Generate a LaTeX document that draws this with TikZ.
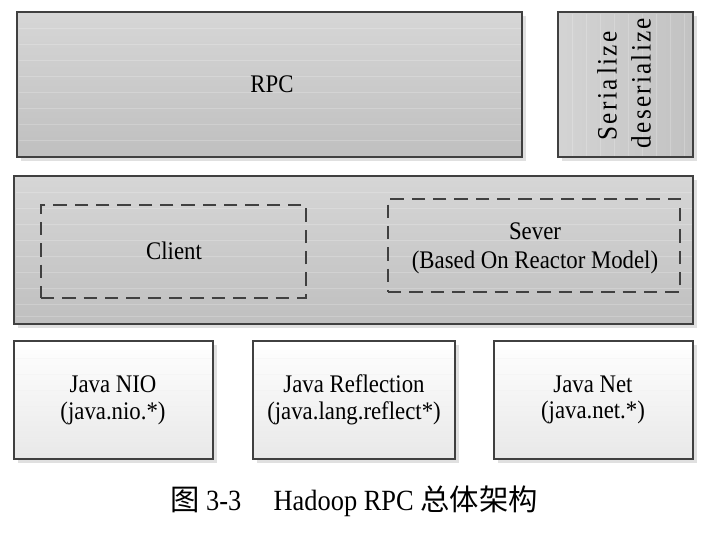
\documentclass[tikz,border=0pt]{standalone}
\usepackage{fontspec}
\setmainfont{Liberation Serif}[FakeStretch=0.9]
\newfontfamily\cjk{Noto Sans CJK SC}
\newfontfamily\spaced{Liberation Serif}[LetterSpace=8, FakeStretch=0.9]
\usetikzlibrary{shadows,fit}
\tikzset{
  frame/.style={draw=black!75, line width=1.2pt, inner sep=0pt},
  shad/.style={drop shadow={shadow xshift=3pt, shadow yshift=-3pt, fill=black!12, opacity=1}},
  graybox/.style={frame, shad, top color=black!16, bottom color=black!25},
  sidebox/.style={frame, shad, left color=black!17, right color=black!24},
  whitebox/.style={frame, shad, top color=white, bottom color=black!9},
  dashbox/.style={draw=black!75, line width=1.5pt, dash pattern=on 10pt off 6pt, inner sep=0pt},
  stripe/.style={draw=white, opacity=0.2, line width=0.6pt},
  lbl/.style={font=\fontsize{19}{20}\selectfont, align=center, inner sep=0pt},
}
\begin{document}
\begin{tikzpicture}[x=0.75pt,y=-0.75pt]
\useasboundingbox (0,0) rectangle (706,532);
% coordinates
\coordinate (r1) at (17,12);   \coordinate (r2) at (522,157);
\coordinate (s1) at (558,12);  \coordinate (s2) at (693,157);
\coordinate (m1) at (14,176);  \coordinate (m2) at (693,324);
\coordinate (c1) at (41,205);  \coordinate (c2) at (306,298);
\coordinate (v1) at (388,199); \coordinate (v2) at (680,292);
\coordinate (n1) at (14,341);  \coordinate (n2) at (213,459);
\coordinate (f1) at (253,341); \coordinate (f2) at (455,459);
\coordinate (t1) at (494,341); \coordinate (t2) at (693,459);
% boxes
\node[graybox, fit=(r1)(r2)] (rpc) {};
\node[sidebox, fit=(s1)(s2)] (ser) {};
\node[graybox, fit=(m1)(m2)] (mid) {};
\node[whitebox, fit=(n1)(n2)] (nio) {};
\node[whitebox, fit=(f1)(f2)] (refl) {};
\node[whitebox, fit=(t1)(t2)] (net) {};
% faint stripes
\foreach \yy in {28,44,60,76,92,108,124,140} \draw[stripe] (18.5,\yy) -- (520.5,\yy);
\foreach \xx in {572,586,600,614,628,642,656,670,684} \draw[stripe] (\xx,13.5) -- (\xx,155.5);
\foreach \yy in {192,208,224,240,256,272,288,304,316} \draw[stripe] (15.5,\yy) -- (691.5,\yy);
\foreach \yy in {358,374,390,406,422,438,452} {
  \draw[stripe, opacity=0.35, draw=black!6] (15.5,\yy) -- (211.5,\yy);
  \draw[stripe, opacity=0.35, draw=black!6] (254.5,\yy) -- (453.5,\yy);
  \draw[stripe, opacity=0.35, draw=black!6] (495.5,\yy) -- (691.5,\yy);
}
% dashed boxes
\node[dashbox, fit=(c1)(c2)] (client) {};
\node[dashbox, fit=(v1)(v2)] (server) {};
% texts
\node[lbl] (trpc) at (272,84) {RPC};
\node[lbl, rotate=90, font=\fontsize{21}{22}\selectfont] (tser1) at (607,86) {\spaced Seria\,lize};
\node[lbl, rotate=90, font=\fontsize{21}{22}\selectfont] (tser2) at (641,83) {\spaced deserialize};
\node[lbl] (tclient) at (174,251) {Client};
\node[lbl] (tserver) at (535,248) {Sever\\[2pt](Based On Reactor Model)};
\node[lbl] (tnio) at (113,400) {Java NIO\\(java.nio.*)};
\node[lbl] (trefl) at (354,400) {Java Reflection\\(java.lang.reflect*)};
\node[lbl] (tnet) at (593,400) {Java Net\\(java.net.*)};
\node[inner sep=0pt, font=\fontsize{22}{24}\selectfont] (cap) at (354,501)
  {{\cjk 图}\ 3-3\hspace{1.1em}Hadoop RPC {\cjk 总体架构}};
\end{tikzpicture}
\end{document}
